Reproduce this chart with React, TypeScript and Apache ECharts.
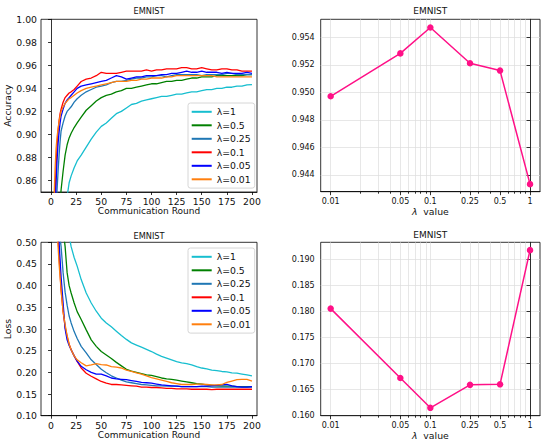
import React, { useEffect, useRef } from "react";
import * as echarts from "echarts";

const ROUNDS = [1, 2, 3, 4, 5, 6, 7, 8, 9, 10, 12, 14, 16, 18, 20, 23, 26, 30, 35, 40, 45, 50, 55, 60, 65, 70, 75, 80, 85, 90, 95, 100, 105, 110, 115, 120, 125, 130, 135, 140, 145, 150, 155, 160, 165, 170, 175, 180, 185, 190, 195, 200];

const NAMES = ["λ=1", "λ=0.5", "λ=0.25", "λ=0.1", "λ=0.05", "λ=0.01"];
const COLORS = ["#17becf", "#008000", "#1f77b4", "#ff0000", "#0000ff", "#ff7f0e"];

const ACC_1 = [0.30, 0.40, 0.50, 0.58, 0.64, 0.69, 0.73, 0.76, 0.78, 0.80, 0.82, 0.835, 0.846, 0.858, 0.864, 0.871, 0.877, 0.882, 0.889, 0.896, 0.902, 0.907, 0.910, 0.914, 0.918, 0.920, 0.923, 0.926, 0.927, 0.929, 0.930, 0.931, 0.932, 0.933, 0.933, 0.934, 0.935, 0.935, 0.936, 0.937, 0.937, 0.938, 0.939, 0.939, 0.940, 0.940, 0.941, 0.941, 0.942, 0.942, 0.943, 0.9433];
const ACC_05 = [0.35, 0.45, 0.55, 0.63, 0.70, 0.75, 0.79, 0.82, 0.84, 0.852, 0.868, 0.882, 0.891, 0.897, 0.901, 0.906, 0.910, 0.915, 0.921, 0.925, 0.929, 0.932, 0.934, 0.935, 0.937, 0.938, 0.940, 0.940, 0.941, 0.942, 0.943, 0.944, 0.944, 0.945, 0.946, 0.946, 0.947, 0.947, 0.948, 0.949, 0.949, 0.950, 0.950, 0.950, 0.951, 0.951, 0.951, 0.951, 0.951, 0.951, 0.952, 0.952];
const ACC_025 = [0.45, 0.58, 0.70, 0.78, 0.83, 0.852, 0.868, 0.882, 0.894, 0.903, 0.910, 0.916, 0.920, 0.922, 0.924, 0.928, 0.931, 0.934, 0.937, 0.939, 0.941, 0.942, 0.943, 0.945, 0.946, 0.946, 0.947, 0.948, 0.949, 0.949, 0.950, 0.950, 0.951, 0.951, 0.950, 0.951, 0.952, 0.952, 0.952, 0.952, 0.952, 0.951, 0.952, 0.952, 0.952, 0.952, 0.953, 0.953, 0.952, 0.952, 0.952, 0.952];
const ACC_01 = [0.55, 0.70, 0.80, 0.848, 0.872, 0.890, 0.903, 0.912, 0.918, 0.922, 0.928, 0.932, 0.934, 0.936, 0.937, 0.939, 0.942, 0.946, 0.948, 0.949, 0.951, 0.954, 0.953, 0.953, 0.953, 0.954, 0.955, 0.955, 0.955, 0.955, 0.956, 0.955, 0.956, 0.956, 0.957, 0.957, 0.957, 0.958, 0.958, 0.957, 0.957, 0.958, 0.957, 0.956, 0.956, 0.957, 0.957, 0.956, 0.956, 0.955, 0.955, 0.955];
const ACC_005 = [0.50, 0.65, 0.76, 0.83, 0.858, 0.878, 0.892, 0.902, 0.910, 0.916, 0.922, 0.927, 0.930, 0.932, 0.934, 0.937, 0.940, 0.942, 0.943, 0.944, 0.945, 0.946, 0.947, 0.949, 0.951, 0.950, 0.948, 0.949, 0.950, 0.950, 0.951, 0.951, 0.951, 0.952, 0.952, 0.953, 0.953, 0.954, 0.955, 0.954, 0.954, 0.955, 0.954, 0.954, 0.954, 0.953, 0.954, 0.953, 0.953, 0.953, 0.954, 0.953];
const ACC_001 = [0.60, 0.76, 0.845, 0.870, 0.888, 0.898, 0.905, 0.911, 0.916, 0.920, 0.924, 0.927, 0.929, 0.931, 0.932, 0.934, 0.936, 0.938, 0.940, 0.941, 0.942, 0.943, 0.944, 0.945, 0.946, 0.946, 0.946, 0.947, 0.947, 0.948, 0.948, 0.949, 0.949, 0.949, 0.950, 0.950, 0.951, 0.951, 0.951, 0.951, 0.951, 0.951, 0.951, 0.951, 0.950, 0.950, 0.950, 0.950, 0.950, 0.950, 0.950, 0.950];

const LOSS_1 = [2.2, 1.9, 1.6, 1.35, 1.15, 1.0, 0.9, 0.82, 0.75, 0.70, 0.64, 0.59, 0.55, 0.515, 0.49, 0.465, 0.445, 0.414, 0.383, 0.360, 0.341, 0.325, 0.314, 0.305, 0.295, 0.285, 0.276, 0.268, 0.263, 0.258, 0.253, 0.248, 0.242, 0.237, 0.233, 0.229, 0.225, 0.222, 0.220, 0.217, 0.213, 0.210, 0.208, 0.205, 0.204, 0.202, 0.201, 0.199, 0.198, 0.196, 0.194, 0.192];
const LOSS_05 = [2.0, 1.6, 1.3, 1.1, 0.95, 0.83, 0.74, 0.67, 0.61, 0.57, 0.53, 0.49, 0.43, 0.40, 0.383, 0.360, 0.340, 0.322, 0.298, 0.275, 0.260, 0.248, 0.240, 0.232, 0.223, 0.215, 0.207, 0.203, 0.200, 0.197, 0.194, 0.193, 0.190, 0.187, 0.185, 0.184, 0.182, 0.180, 0.178, 0.176, 0.174, 0.173, 0.171, 0.170, 0.169, 0.168, 0.168, 0.168, 0.167, 0.167, 0.167, 0.167];
const LOSS_025 = [1.8, 1.4, 1.1, 0.9, 0.76, 0.66, 0.59, 0.54, 0.51, 0.49, 0.43, 0.385, 0.355, 0.33, 0.314, 0.294, 0.278, 0.260, 0.245, 0.229, 0.218, 0.207, 0.199, 0.192, 0.187, 0.182, 0.178, 0.176, 0.174, 0.172, 0.171, 0.170, 0.169, 0.169, 0.168, 0.168, 0.168, 0.167, 0.167, 0.167, 0.167, 0.167, 0.167, 0.166, 0.166, 0.166, 0.166, 0.166, 0.166, 0.166, 0.166, 0.166];
const LOSS_01 = [1.5, 1.1, 0.85, 0.70, 0.62, 0.56, 0.51, 0.47, 0.43, 0.39, 0.34, 0.305, 0.283, 0.265, 0.252, 0.238, 0.225, 0.210, 0.198, 0.191, 0.185, 0.179, 0.175, 0.172, 0.172, 0.171, 0.170, 0.169, 0.168, 0.166, 0.166, 0.165, 0.165, 0.164, 0.163, 0.163, 0.162, 0.162, 0.162, 0.161, 0.161, 0.161, 0.161, 0.160, 0.161, 0.161, 0.161, 0.161, 0.161, 0.161, 0.161, 0.161];
const LOSS_005 = [1.6, 1.2, 0.9, 0.74, 0.65, 0.59, 0.54, 0.50, 0.46, 0.42, 0.36, 0.30, 0.275, 0.262, 0.252, 0.238, 0.226, 0.214, 0.206, 0.200, 0.196, 0.196, 0.192, 0.187, 0.185, 0.184, 0.183, 0.181, 0.179, 0.177, 0.176, 0.175, 0.173, 0.171, 0.170, 0.169, 0.168, 0.167, 0.167, 0.167, 0.167, 0.168, 0.168, 0.169, 0.170, 0.171, 0.172, 0.169, 0.167, 0.166, 0.166, 0.167];
const LOSS_001 = [1.4, 1.0, 0.80, 0.66, 0.58, 0.53, 0.49, 0.45, 0.42, 0.39, 0.34, 0.31, 0.285, 0.265, 0.252, 0.238, 0.229, 0.222, 0.215, 0.217, 0.220, 0.218, 0.217, 0.213, 0.212, 0.210, 0.205, 0.202, 0.199, 0.196, 0.192, 0.188, 0.185, 0.182, 0.179, 0.176, 0.174, 0.172, 0.172, 0.172, 0.173, 0.173, 0.172, 0.171, 0.171, 0.172, 0.177, 0.180, 0.183, 0.184, 0.184, 0.180];

const ACC_SERIES = [ACC_1, ACC_05, ACC_025, ACC_01, ACC_005, ACC_001];
const LOSS_SERIES = [LOSS_1, LOSS_05, LOSS_025, LOSS_01, LOSS_005, LOSS_001];

const LAMBDAS = [0.01, 0.05, 0.1, 0.25, 0.5, 1];
const LAMBDA_LABELS = ["0.01", "0.05", "0.1", "0.25", "0.5", "1"];
const LAMBDA_MINOR = [0.02, 0.03, 0.04, 0.06, 0.07, 0.08, 0.09, 0.2, 0.3, 0.4, 0.6, 0.7, 0.8, 0.9];
const FINAL_ACC = [0.94972, 0.95284, 0.95472, 0.95212, 0.95159, 0.94333];
const FINAL_LOSS = [0.1805, 0.1672, 0.1615, 0.1659, 0.1660, 0.1917];

const ROUND_TICKS = [0, 25, 50, 75, 100, 125, 150, 175, 200];
const ACC_TICKS = [0.86, 0.88, 0.9, 0.92, 0.94, 0.96, 0.98, 1.0];
const LOSS_TICKS = [0.1, 0.15, 0.2, 0.25, 0.3, 0.35, 0.4, 0.45, 0.5];
const FACC_TICKS = [0.944, 0.946, 0.948, 0.95, 0.952, 0.954];
const FLOSS_TICKS = [0.16, 0.165, 0.17, 0.175, 0.18, 0.185, 0.19];

const PINK = "#ff1087";
const FONT = "DejaVu Sans";
const TXT = "#111";

export default function App() {
  const ref = useRef<HTMLDivElement>(null);

  useEffect(() => {
    document.body.style.margin = "0";
    if (!ref.current) return;
    const chart = echarts.init(ref.current, undefined, { renderer: "svg" });

    const logX = (v: number) => Math.log10(v);
    const lamMajor = LAMBDAS.map(logX);
    const lamMinor = LAMBDA_MINOR.map(logX);
    const lamLabel = (v: number) => {
      for (let i = 0; i < LAMBDAS.length; i++) {
        if (Math.abs(lamMajor[i] - v) < 1e-6) return LAMBDA_LABELS[i];
      }
      return "";
    };

    const grids = [
      { left: 41, top: 19.3, width: 216, height: 172.7 },
      { left: 320.7, top: 19.3, width: 219.3, height: 172.4 },
      { left: 41, top: 242.3, width: 216, height: 173.4 },
      { left: 320.7, top: 242.3, width: 219.3, height: 173.4 },
    ].map((g) => ({ ...g, show: true, borderColor: "#000", borderWidth: 0.8, backgroundColor: "transparent" }));

    const tickStyle = { color: "#000", width: 0.8 };
    const leftLabel = { color: TXT, fontFamily: FONT, fontSize: 9.3 };
    const rightLabel = { color: TXT, fontFamily: FONT, fontSize: 8 };
    const gridLine = { show: true, lineStyle: { color: "#dcdcdc", width: 0.7 } };

    const roundAxis = (gridIndex: number) => ({
      type: "value",
      gridIndex,
      position: "bottom",
      min: -10,
      max: 205,
      name: "Communication Round",
      nameLocation: "middle",
      nameGap: 14.5,
      nameTextStyle: { color: TXT, fontFamily: FONT, fontSize: 9 },
      axisLine: { show: true, lineStyle: tickStyle },
      axisTick: { show: true, length: 3, lineStyle: tickStyle, customValues: ROUND_TICKS },
      axisLabel: { ...leftLabel, margin: 5, customValues: ROUND_TICKS, formatter: (v: number) => String(Math.round(v)) },
      splitLine: { show: false },
    });

    const lamAxis = (gridIndex: number) => ({
      type: "value",
      gridIndex,
      position: "bottom",
      min: -2.1,
      max: 0.1,
      name: "{i|λ}  value",
      nameLocation: "middle",
      nameGap: 15,
      nameTextStyle: {
        color: TXT,
        fontFamily: FONT,
        fontSize: 9.3,
        rich: { i: { fontStyle: "italic", fontFamily: FONT, fontSize: 9.3, color: TXT } },
      },
      axisLine: { show: true, lineStyle: tickStyle },
      axisTick: { show: true, length: 3.5, lineStyle: tickStyle, customValues: lamMajor },
      axisLabel: { ...rightLabel, margin: 5.5, customValues: lamMajor, formatter: lamLabel },
      splitLine: gridLine,
    });

    const lamMinorAxis = (gridIndex: number) => ({
      type: "value",
      gridIndex,
      position: "bottom",
      min: -2.1,
      max: 0.1,
      axisLine: { show: false },
      axisTick: { show: true, length: 2, lineStyle: tickStyle, customValues: lamMinor },
      axisLabel: { show: false },
      splitLine: gridLine,
    });

    const yAxis = [
      {
        type: "value",
        gridIndex: 0,
        min: 0.85,
        max: 1.0,
        name: "Accuracy",
        nameLocation: "middle",
        nameGap: 25,
        nameTextStyle: { color: TXT, fontFamily: FONT, fontSize: 9.3 },
        axisLine: { show: true, lineStyle: tickStyle },
        axisTick: { show: true, length: 3, lineStyle: tickStyle, customValues: ACC_TICKS },
        axisLabel: { ...leftLabel, margin: 4, customValues: ACC_TICKS, formatter: (v: number) => v.toFixed(2) },
        splitLine: { show: false },
      },
      {
        type: "value",
        gridIndex: 1,
        min: 0.94278,
        max: 0.95532,
        axisLine: { show: true, lineStyle: tickStyle },
        axisTick: { show: true, length: 3.5, lineStyle: tickStyle, customValues: FACC_TICKS },
        axisLabel: { ...rightLabel, margin: 6, customValues: FACC_TICKS, formatter: (v: number) => v.toFixed(3) },
        splitLine: gridLine,
      },
      {
        type: "value",
        gridIndex: 2,
        min: 0.1,
        max: 0.5,
        name: "Loss",
        nameLocation: "middle",
        nameGap: 25,
        nameTextStyle: { color: TXT, fontFamily: FONT, fontSize: 9.3 },
        axisLine: { show: true, lineStyle: tickStyle },
        axisTick: { show: true, length: 3, lineStyle: tickStyle, customValues: LOSS_TICKS },
        axisLabel: { ...leftLabel, margin: 4, customValues: LOSS_TICKS, formatter: (v: number) => v.toFixed(2) },
        splitLine: { show: false },
      },
      {
        type: "value",
        gridIndex: 3,
        min: 0.15999,
        max: 0.1932,
        axisLine: { show: true, lineStyle: tickStyle },
        axisTick: { show: true, length: 3.5, lineStyle: tickStyle, customValues: FLOSS_TICKS },
        axisLabel: { ...rightLabel, margin: 6, customValues: FLOSS_TICKS, formatter: (v: number) => v.toFixed(3) },
        splitLine: gridLine,
      },
    ];

    const xAxis = [roundAxis(0), lamAxis(1), lamMinorAxis(1), roundAxis(2), lamAxis(3), lamMinorAxis(3)];

    const curveSeries = (sets: number[][], xi: number, yi: number) =>
      sets.map((vals, k) => ({
        type: "line",
        name: NAMES[k],
        xAxisIndex: xi,
        yAxisIndex: yi,
        data: ROUNDS.map((r, i) => [r, vals[i]]),
        showSymbol: false,
        symbol: "none",
        clip: true,
        itemStyle: { color: COLORS[k] },
        lineStyle: { color: COLORS[k], width: 1.3 },
        z: 2 + k,
      }));

    const lamSeries = (vals: number[], xi: number, yi: number) => ({
      type: "line",
      name: "final",
      xAxisIndex: xi,
      yAxisIndex: yi,
      data: LAMBDAS.map((l, i) => [logX(l), vals[i]]),
      symbol: "circle",
      symbolSize: 6.5,
      showSymbol: true,
      itemStyle: { color: PINK },
      lineStyle: { color: PINK, width: 1.5 },
      z: 5,
    });

    const legendBase = {
      orient: "vertical",
      left: 188,
      data: NAMES,
      icon: "rect",
      itemWidth: 20,
      itemHeight: 2,
      itemGap: 2.5,
      padding: [3.3, 4, 3.3, 3.7],
      borderColor: "#cccccc",
      borderWidth: 0.8,
      borderRadius: 2.5,
      backgroundColor: "rgba(255,255,255,0.85)",
      selectedMode: false,
      textStyle: { color: TXT, fontFamily: FONT, fontSize: 9.3, lineHeight: 11, padding: [0, 0, 0, 0] },
    };

    const title = (x: number, y: number, size: number) => ({
      type: "text",
      x,
      y,
      style: { text: "EMNIST", textAlign: "center", textVerticalAlign: "middle", fill: TXT, fontFamily: FONT, fontSize: size },
    });

    chart.setOption({
      animation: false,
      backgroundColor: "#fff",
      grid: grids,
      xAxis,
      yAxis,
      legend: [
        { ...legendBase, top: 103 },
        { ...legendBase, top: 248 },
      ],
      graphic: [title(149, 11, 8.2), title(430.3, 10.7, 9), title(149, 235.7, 8.2), title(430.3, 235.3, 9)],
      series: [
        ...curveSeries(ACC_SERIES, 0, 0),
        lamSeries(FINAL_ACC, 1, 1),
        ...curveSeries(LOSS_SERIES, 3, 2),
        lamSeries(FINAL_LOSS, 4, 3),
      ],
    });

    return () => chart.dispose();
  }, []);

  return <div ref={ref} style={{ width: 550, height: 446 }} />;
}
